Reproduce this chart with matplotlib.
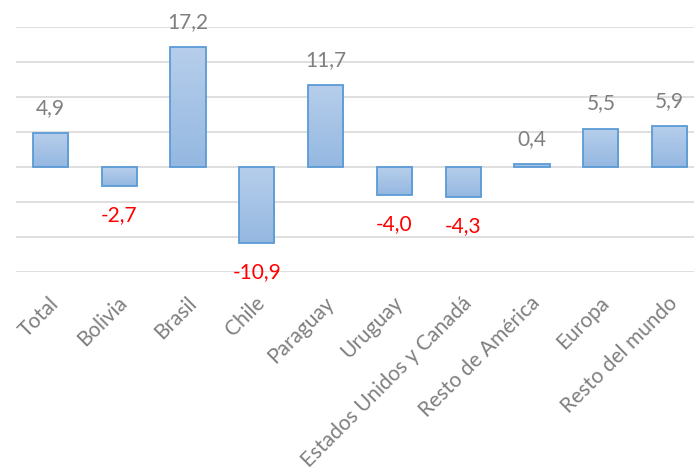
import numpy as np
import matplotlib
matplotlib.use("Agg")
import matplotlib.pyplot as plt
from matplotlib.colors import LinearSegmentedColormap
from matplotlib.transforms import ScaledTranslation

categories = ["Total", "Bolivia", "Brasil", "Chile", "Paraguay", "Uruguay",
              "Estados Unidos y Canadá", "Resto de América", "Europa", "Resto del mundo"]
values = [4.9, -2.7, 17.2, -10.9, 11.7, -4.0, -4.3, 0.4, 5.5, 5.9]
labels = ["4,9", "-2,7", "17,2", "-10,9", "11,7", "-4,0", "-4,3", "0,4", "5,5", "5,9"]

plt.rcParams['font.family'] = ['Lato', 'DejaVu Sans']

fig = plt.figure(figsize=(6.94, 4.74), dpi=100)
ax = fig.add_axes([16/694, (474-272)/474, 688/694, 245/474])

x = np.arange(len(categories))
w = 0.51
cmap = LinearSegmentedColormap.from_list("g", ["#95B8E1", "#B6CEEB"])
grad = np.linspace(0, 1, 64).reshape(-1, 1)

bars = ax.bar(x, values, width=w, facecolor='none', edgecolor='#5B9BD5', linewidth=1.3, zorder=3)
for b in bars:
    x0, y0 = b.get_x(), b.get_y()
    bw, bh = b.get_width(), b.get_height()
    ylo, yhi = min(y0, y0 + bh), max(y0, y0 + bh)
    im = ax.imshow(grad, extent=[x0, x0 + bw, ylo, yhi], origin='lower', cmap=cmap,
                   aspect='auto', zorder=2, interpolation='bilinear')
    im.set_clip_path(b)

for xi, v, lab in zip(x, values, labels):
    if v >= 0:
        ax.annotate(lab, (xi, v), xytext=(0, 25), textcoords='offset pixels',
                    ha='center', va='center', color='#7F7F7F', fontsize=15)
    else:
        ax.annotate(lab, (xi, v), xytext=(0, -29), textcoords='offset pixels',
                    ha='center', va='center', color='#FF0000', fontsize=15)

ax.set_xlim(-0.5, len(categories) - 0.5)
ax.set_ylim(-15, 20)
ax.set_yticks(np.arange(-15, 21, 5))
ax.yaxis.grid(True, color='#D9D9D9', linewidth=1.2, zorder=0)
ax.set_axisbelow(True)
ax.tick_params(left=False, labelleft=False, bottom=False, labelbottom=False)
for s in ax.spines.values():
    s.set_visible(False)

off = ScaledTranslation(-2/100, -21/100, fig.dpi_scale_trans)
for xi, cat in zip(x, categories):
    ax.text(xi, 0, cat, transform=ax.get_xaxis_transform() + off, rotation=45,
            rotation_mode='anchor', ha='right', va='top', color='#7F7F7F', fontsize=15)

fig.savefig("out.png", dpi=100)
